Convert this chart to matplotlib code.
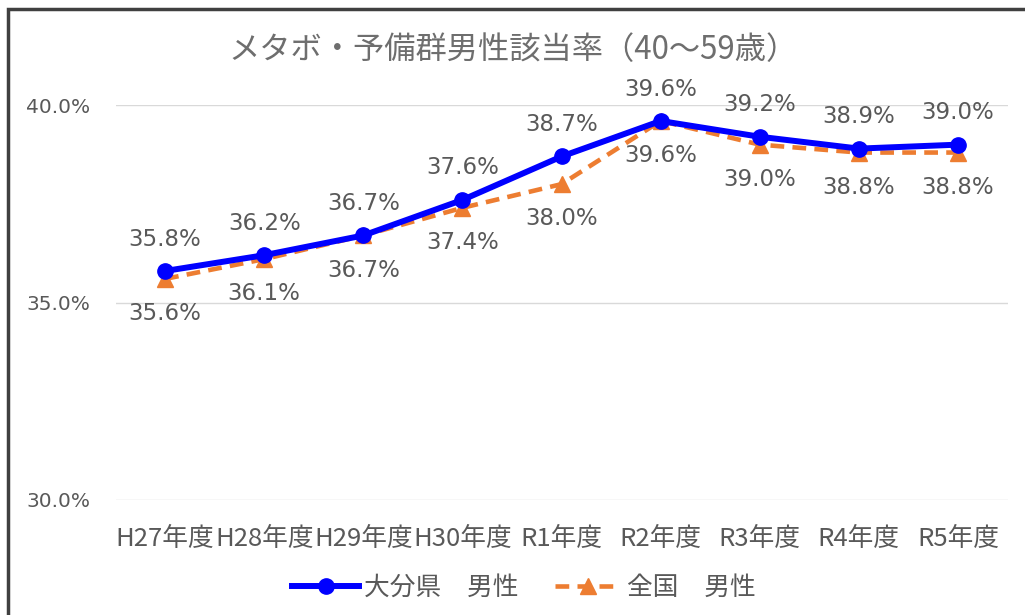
import matplotlib.pyplot as plt
import matplotlib.patches as patches
from matplotlib.ticker import FuncFormatter
from matplotlib.lines import Line2D

plt.rcParams['font.family'] = ['Noto Sans CJK JP', 'DejaVu Sans']

years = ['H27年度', 'H28年度', 'H29年度', 'H30年度', 'R1年度', 'R2年度', 'R3年度', 'R4年度', 'R5年度']
oita_male = [35.8, 36.2, 36.7, 37.6, 38.7, 39.6, 39.2, 38.9, 39.0]
japan_male = [35.6, 36.1, 36.7, 37.4, 38.0, 39.6, 39.0, 38.8, 38.8]

gray = '#595959'
blue = '#0000ff'
orange = '#ed7d31'
dash = (0, (3, 1.8))

fig = plt.figure(figsize=(10.25, 6.15), dpi=100)
ax = fig.add_axes([0.1127, 0.187, 0.8703, 0.642])

x = list(range(len(years)))
ax.plot(x, oita_male, color=blue, lw=4.3, marker='o', ms=11, zorder=4)
ax.plot(x, japan_male, color=orange, lw=3.3, ls=dash, marker='^', ms=11, zorder=3)

for i in x:
    ax.annotate(f'{oita_male[i]:.1f}%', (i, oita_male[i]), xytext=(0, 23), textcoords='offset points',
                ha='center', va='center', fontsize=16.5, color=gray, family='DejaVu Sans')
    ax.annotate(f'{japan_male[i]:.1f}%', (i, japan_male[i]), xytext=(0, -25), textcoords='offset points',
                ha='center', va='center', fontsize=16.5, color=gray, family='DejaVu Sans')

ax.set_xlim(-0.5, len(years) - 0.5)
ax.set_ylim(30, 40)
ax.set_yticks([30, 35, 40])
ax.yaxis.set_major_formatter(FuncFormatter(lambda v, p: f'{v:.1f}%'))
ax.set_xticks(x)
ax.set_xticklabels(years, fontsize=18.5)
ax.grid(axis='y', color='#d9d9d9', lw=1)
ax.set_axisbelow(True)
for s in ax.spines.values():
    s.set_visible(False)
ax.tick_params(axis='both', length=0, colors=gray)
ax.tick_params(axis='x', pad=19)
ax.tick_params(axis='y', pad=18, labelsize=14.5)
for lbl in ax.get_yticklabels():
    lbl.set_family('DejaVu Sans')

fig.text(0.501, 0.918, 'メタボ・予備群男性該当率（40～59歳）', ha='center', va='center',
         fontsize=22.5, color='#6e6e6e')

handles = [
    Line2D([], [], color=blue, lw=4.3, marker='o', ms=11),
    Line2D([], [], color=orange, lw=3.3, ls=dash, marker='^', ms=11),
]
fig.legend(handles, ['大分県　男性', '全国　男性'], loc='center', bbox_to_anchor=(0.511, 0.044),
           ncol=2, frameon=False, fontsize=18.5, labelcolor=gray, handlelength=2.6,
           columnspacing=1.4, handletextpad=0.2)

# outer frame
fig.patches.append(patches.Rectangle((8 / 1025, -0.1), 1.2, 1 - 9 / 615 + 0.1, transform=fig.transFigure,
                                     fill=False, edgecolor='#404040', lw=2.5))

fig.savefig('out.png', dpi=100)
